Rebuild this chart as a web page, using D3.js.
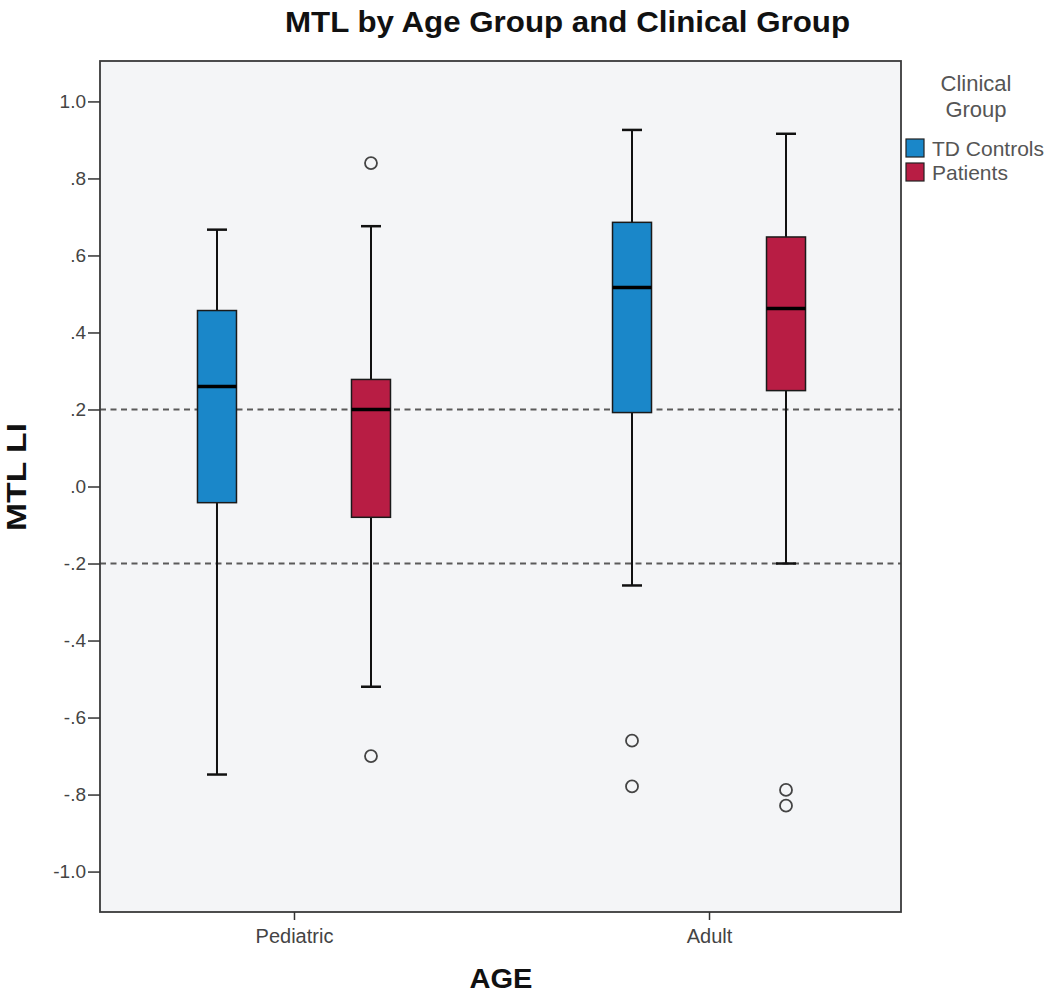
<!DOCTYPE html>
<html><head><meta charset="utf-8">
<script src="https://cdn.jsdelivr.net/npm/d3@7"></script>
<style>body{margin:0;background:#fff;} svg{display:block;}</style>
</head><body>
<svg id="c" width="1050" height="996"></svg>
<script>
const ageGroups = ["Pediatric", "Adult"];
const clinicalGroups = ["TD Controls", "Patients"];
const colors = ["#1a87c9", "#b81d44"];
// [age, group, whiskerLow, q1, median, q3, whiskerHigh]
const boxStats = [
  ["Pediatric", "TD Controls", -0.748, -0.042, 0.26, 0.457, 0.667],
  ["Pediatric", "Patients", -0.52, -0.08, 0.2, 0.278, 0.676],
  ["Adult", "TD Controls", -0.257, 0.192, 0.517, 0.686, 0.926],
  ["Adult", "Patients", -0.20, 0.249, 0.462, 0.648, 0.916]
];
const outliers = [
  ["Pediatric", "Patients", 0.84],
  ["Pediatric", "Patients", -0.70],
  ["Adult", "TD Controls", -0.66],
  ["Adult", "TD Controls", -0.779],
  ["Adult", "Patients", -0.788],
  ["Adult", "Patients", -0.829]
];
const refLines = [0.2, -0.2];
const yTicks = [1.0, 0.8, 0.6, 0.4, 0.2, 0.0, -0.2, -0.4, -0.6, -0.8, -1.0];
const yTickLabels = ["1.0", ".8", ".6", ".4", ".2", ".0", "-.2", "-.4", "-.6", "-.8", "-1.0"];

const FONT = "Liberation Sans, Arial, sans-serif";
const svg = d3.select("#c");
const L = 100, R = 901, T = 61, B = 912;
const y = d3.scaleLinear().domain([-1.105, 1.105]).range([B, T]);
const x = d3.scalePoint().domain(ageGroups).range([101, 902]).padding(0.465);
const sub = d3.scalePoint().domain(clinicalGroups).range([-77, 77]);
const color = d3.scaleOrdinal().domain(clinicalGroups).range(colors);
const boxW = 39, capW = 20;

// plot background
svg.append("rect").attr("x", L).attr("y", T).attr("width", R - L).attr("height", B - T)
  .attr("fill", "#f4f5f7");

// reference lines
svg.selectAll(".ref").data(refLines).join("line")
  .attr("x1", L).attr("x2", R).attr("y1", d => y(d)).attr("y2", d => y(d))
  .attr("stroke", "#5a5a5a").attr("stroke-width", 2).attr("stroke-dasharray", "6,4.5");

// boxes
const g = svg.selectAll(".box").data(boxStats).join("g")
  .attr("transform", d => `translate(${x(d[0]) + sub(d[1])},0)`);
g.append("line").attr("x1", 0).attr("x2", 0).attr("y1", d => y(d[6])).attr("y2", d => y(d[5]))
  .attr("stroke", "#111").attr("stroke-width", 2);
g.append("line").attr("x1", 0).attr("x2", 0).attr("y1", d => y(d[3])).attr("y2", d => y(d[2]))
  .attr("stroke", "#111").attr("stroke-width", 2);
g.append("line").attr("x1", -capW / 2).attr("x2", capW / 2).attr("y1", d => y(d[6])).attr("y2", d => y(d[6]))
  .attr("stroke", "#111").attr("stroke-width", 2.5);
g.append("line").attr("x1", -capW / 2).attr("x2", capW / 2).attr("y1", d => y(d[2])).attr("y2", d => y(d[2]))
  .attr("stroke", "#111").attr("stroke-width", 2.5);
g.append("rect").attr("x", -boxW / 2).attr("width", boxW)
  .attr("y", d => y(d[5])).attr("height", d => y(d[3]) - y(d[5]))
  .attr("fill", d => color(d[1])).attr("stroke", "#1a1a1a").attr("stroke-width", 1.5);
g.append("line").attr("x1", -boxW / 2).attr("x2", boxW / 2).attr("y1", d => y(d[4])).attr("y2", d => y(d[4]))
  .attr("stroke", "#000").attr("stroke-width", 3.5);

// outliers
svg.selectAll(".out").data(outliers).join("circle")
  .attr("cx", d => x(d[0]) + sub(d[1])).attr("cy", d => y(d[2])).attr("r", 6)
  .attr("fill", "none").attr("stroke", "#444").attr("stroke-width", 1.8);

// frame
svg.append("rect").attr("x", L).attr("y", T).attr("width", R - L).attr("height", B - T)
  .attr("fill", "none").attr("stroke", "#3a3a3a").attr("stroke-width", 1.8);

// y axis
const yAxis = d3.axisLeft(y).tickValues(yTicks).tickSize(12).tickPadding(2)
  .tickFormat((d, i) => yTickLabels[i]);
const ya = svg.append("g").attr("transform", `translate(${L},0)`).call(yAxis);
ya.select(".domain").remove();
ya.selectAll(".tick line").attr("stroke", "#333").attr("stroke-width", 1.5);
ya.selectAll(".tick text").attr("font-family", FONT)
  .attr("font-size", 19).attr("fill", "#444");

// x axis
const xAxis = d3.axisBottom(x).tickSize(8).tickPadding(9);
const xa = svg.append("g").attr("transform", `translate(0,${B})`).call(xAxis);
xa.select(".domain").remove();
xa.selectAll(".tick line").attr("stroke", "#333").attr("stroke-width", 1.5);
xa.selectAll(".tick text").attr("font-family", FONT)
  .attr("font-size", 20).attr("fill", "#444");

// titles
svg.append("text").attr("x", 567.5).attr("y", 32).attr("text-anchor", "middle")
  .attr("font-family", FONT).attr("font-weight", "bold")
  .attr("font-size", 30).attr("fill", "#111")
  .attr("textLength", 565).attr("lengthAdjust", "spacingAndGlyphs")
  .text("MTL by Age Group and Clinical Group");
svg.append("text").attr("transform", "translate(26,477) rotate(-90)").attr("text-anchor", "middle")
  .attr("font-family", FONT).attr("font-weight", "bold")
  .attr("font-size", 28).attr("fill", "#111")
  .attr("textLength", 108).attr("lengthAdjust", "spacingAndGlyphs")
  .text("MTL LI");
svg.append("text").attr("x", 501).attr("y", 988).attr("text-anchor", "middle")
  .attr("font-family", FONT).attr("font-weight", "bold")
  .attr("font-size", 27).attr("fill", "#111")
  .attr("textLength", 63).attr("lengthAdjust", "spacingAndGlyphs")
  .text("AGE");

// legend
svg.append("text").attr("x", 976).attr("y", 91).attr("text-anchor", "middle")
  .attr("font-family", FONT).attr("font-size", 22).attr("fill", "#555")
  .text("Clinical");
svg.append("text").attr("x", 976).attr("y", 117).attr("text-anchor", "middle")
  .attr("font-family", FONT).attr("font-size", 22).attr("fill", "#555")
  .text("Group");
const lg = svg.selectAll(".lg").data(clinicalGroups).join("g")
  .attr("transform", (d, i) => `translate(906,${139 + i * 24})`);
lg.append("rect").attr("width", 18).attr("height", 18).attr("fill", d => color(d))
  .attr("stroke", "#222").attr("stroke-width", 1.2);
lg.append("text").attr("x", 26).attr("y", 17)
  .attr("font-family", FONT).attr("font-size", 21).attr("fill", "#555")
  .text(d => d);
</script>
</body></html>
